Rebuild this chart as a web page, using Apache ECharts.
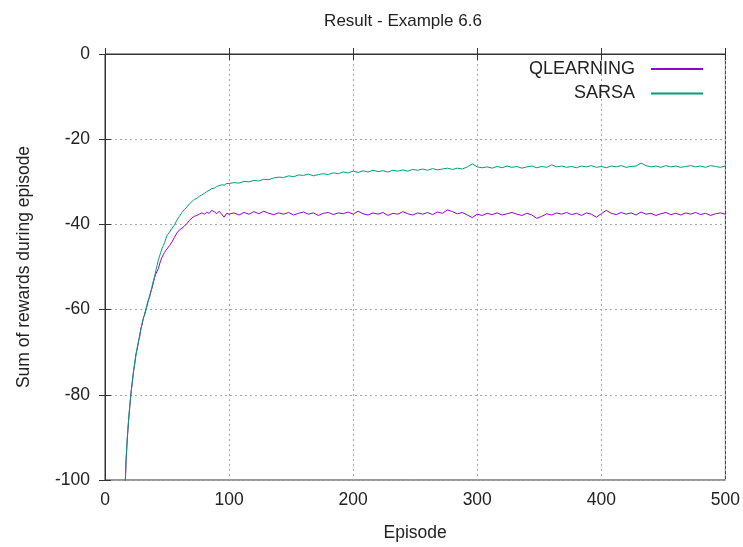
<!DOCTYPE html>
<html>
<head>
<meta charset="utf-8">
<script src="https://cdn.jsdelivr.net/npm/echarts@6/dist/echarts.min.js"></script>
<style>
  html, body { margin: 0; padding: 0; background: #fff; }
  #chart { width: 743px; height: 547px; }
</style>
</head>
<body>
<div id="chart"></div>
<script>
const episodes = [
  1, 5, 10, 14, 15,
  16, 17, 18, 19, 20, 21, 22, 23, 24, 25, 26, 27, 28, 29, 30,
  31, 32, 33, 34, 35, 36, 37, 38, 39, 40, 41, 42, 43, 44, 45,
  46, 47, 48, 49, 50,
  52, 54, 56, 58, 60, 62, 64, 66, 68, 70, 72, 74, 76, 78, 80,
  82, 84, 86, 88, 90, 92, 94, 96, 98, 100,
  104, 108, 112, 116, 120, 124, 128, 132, 136, 140,
  144, 148, 152, 156, 160, 164, 168, 172, 176, 180,
  184, 188, 192, 196, 200, 204, 208, 212, 216, 220,
  224, 228, 232, 236, 240, 244, 248, 252, 256, 260,
  264, 268, 272, 276, 280, 284, 288, 292, 296, 300,
  304, 308, 312, 316, 320, 324, 328, 332, 336, 340,
  344, 348, 352, 356, 360, 364, 368, 372, 376, 380,
  384, 388, 392, 396, 400, 404, 408, 412, 416, 420,
  424, 428, 432, 436, 440, 444, 448, 452, 456, 460,
  464, 468, 472, 476, 480, 484, 488, 492, 496, 500
];

const qlearning = [
  -420, -310, -200, -135, -118,
  -104, -95.5, -90.3, -86.2, -82.8, -79.3, -77.2, -74.3, -72.8, -70.3, -69.3, -67.4, -66.3, -64.3, -63.5,
  -61.8, -61.3, -59.8, -59.1, -57.6, -57.1, -55.6, -54.9, -53.6, -52.5, -51.6, -51.0, -50.4, -49.3, -48.4,
  -47.7, -47.1, -46.6, -46.1, -45.7,
  -45.0, -44.1, -43.0, -42.0, -41.3, -40.9, -40.4, -39.8, -39.1, -38.5, -38.1, -37.9, -37.6, -37.3, -37.6,
  -37.2, -37.4, -36.7, -37.0, -37.5, -36.9, -37.6, -38.3, -37.4, -37.6,
  -37.3, -37.8, -37.2, -37.6, -37.0, -37.5, -36.9, -37.4, -37.7, -37.3,
  -37.6, -37.2, -37.8, -37.4, -37.1, -37.6, -37.3, -37.9, -37.4, -37.2,
  -37.7, -37.3, -37.5, -37.1, -37.6, -36.9, -37.5, -37.8, -37.3, -37.6,
  -37.2, -37.9, -37.4, -37.6, -37.0, -37.5, -37.8, -37.3, -37.6, -37.2,
  -37.7, -37.1, -37.4, -36.6, -37.0, -37.5, -37.2, -37.8, -38.4, -37.6,
  -37.9, -37.4, -37.7, -37.3, -37.8, -37.5, -37.2, -37.6, -37.9, -37.4,
  -37.8, -38.6, -38.1, -37.5, -37.8, -37.3, -37.6, -37.2, -37.7, -37.4,
  -37.9, -37.3, -37.6, -38.3, -37.5, -36.7, -37.4, -37.7, -37.2, -37.6,
  -37.3, -37.8, -37.1, -37.6, -37.4, -37.9, -37.5, -37.2, -37.7, -37.4,
  -37.8, -37.3, -37.6, -37.2, -37.7, -37.4, -37.9, -37.5, -37.3, -37.6
];

const sarsa = [
  -420, -310, -200, -135, -118,
  -103.5, -95.0, -89.8, -85.8, -82.3, -79.7, -76.8, -74.7, -72.3, -70.7, -68.8, -67.6, -65.8, -64.6, -63.0,
  -62.1, -60.8, -60.1, -58.6, -57.9, -56.6, -55.9, -54.4, -53.2, -52.2, -50.8, -49.6, -48.3, -47.4, -46.5,
  -45.6, -45.0, -44.3, -43.4, -42.6,
  -41.8, -40.9, -40.1, -39.0, -38.1, -37.2, -36.5, -35.9, -35.2, -34.7, -34.1, -33.9, -33.4, -33.1, -32.7,
  -32.3, -32.0, -31.6, -31.5, -31.1, -30.9, -30.7, -30.8, -30.4, -30.4,
  -30.2, -30.3, -29.9, -30.0, -29.7, -29.8, -29.4, -29.5, -29.1, -28.9,
  -29.0, -28.6, -28.8, -28.4, -28.5, -28.2, -28.6, -28.3, -28.1, -28.3,
  -27.9, -28.1, -27.7, -27.9, -27.5, -27.8, -27.4, -27.7, -27.3, -27.6,
  -27.4, -27.7, -27.3, -27.5, -27.2, -27.5, -27.1, -27.3, -27.0, -27.3,
  -26.9, -27.2, -27.0, -26.8, -27.1, -26.8, -27.0, -26.5, -25.8, -26.5,
  -26.7, -26.5, -26.8, -26.4, -26.7, -26.3, -26.6, -26.4, -26.8, -26.5,
  -26.3, -26.7, -26.4, -26.6, -26.0, -26.5, -26.3, -26.6, -26.4, -26.7,
  -26.3, -26.5, -26.2, -26.6, -26.4, -26.7, -26.3, -26.5, -26.2, -26.6,
  -26.4, -26.3, -25.6, -26.2, -26.5, -26.3, -26.6, -26.2, -26.5, -26.3,
  -26.6, -26.4, -26.2, -26.5, -26.3, -26.6, -26.2, -26.4, -26.6, -26.3
];

const seriesNames = ['QLEARNING', 'SARSA'];
const seriesColors = ['#9400d3', '#009e73'];
const xTicks = { min: 0, max: 500, interval: 100 };
const yTicks = { min: -100, max: 0, interval: 20 };

const font = '"Liberation Sans", Arial, sans-serif';
const pairs = (ys) => episodes.map((x, i) => [x, ys[i]]);

const chart = echarts.init(document.getElementById('chart'), null, { renderer: 'canvas' });

const frame = { show: true, lineStyle: { color: '#333', width: 1 } };
const tick = { show: true, inside: true, length: 6, lineStyle: { color: '#333' } };
const dotted = { show: true, lineStyle: { color: '#a8a8a8', type: [2, 3], width: 1 } };

const lineSeries = (name, ys, color) => ({
  name: name,
  type: 'line',
  data: pairs(ys),
  symbol: 'none',
  clip: true,
  itemStyle: { color: color },
  lineStyle: { width: 1, color: color }
});

chart.setOption({
  animation: false,
  backgroundColor: '#fff',
  textStyle: { fontFamily: font },
  title: {
    text: 'Result - Example 6.6',
    left: 398,
    top: 8,
    textAlign: 'center',
    textStyle: { fontSize: 17, fontWeight: 'normal', color: '#222', fontFamily: font }
  },
  legend: {
    orient: 'vertical',
    right: 35,
    top: 55,
    align: 'right',
    icon: 'rect',
    itemWidth: 52,
    itemHeight: 2,
    itemGap: 6.5,
    textStyle: { fontSize: 18, color: '#222', fontFamily: font, padding: [0, 11, 0, 0] },
    data: seriesNames.map((n, i) => ({ name: n, itemStyle: { color: seriesColors[i] } }))
  },
  grid: { left: 105, right: 17, top: 54, bottom: 65, show: true, borderColor: '#333', borderWidth: 1 },
  xAxis: [
    {
      type: 'value',
      min: xTicks.min, max: xTicks.max, interval: xTicks.interval,
      name: 'Episode',
      nameLocation: 'middle',
      nameGap: 44,
      nameTextStyle: { fontSize: 17.5, color: '#222', fontFamily: font },
      axisLine: frame,
      axisTick: tick,
      axisLabel: { fontSize: 17.5, color: '#222', margin: 11, fontFamily: font },
      splitLine: dotted
    },
    {
      type: 'value', position: 'top',
      min: xTicks.min, max: xTicks.max, interval: xTicks.interval,
      axisLine: frame, axisTick: tick,
      axisLabel: { show: false }, splitLine: { show: false }
    }
  ],
  yAxis: [
    {
      type: 'value',
      min: yTicks.min, max: yTicks.max, interval: yTicks.interval,
      name: 'Sum of rewards during episode',
      nameLocation: 'middle',
      nameGap: 72,
      nameRotate: 90,
      nameTextStyle: { fontSize: 17.5, color: '#222', fontFamily: font },
      axisLine: frame,
      axisTick: tick,
      axisLabel: { fontSize: 17.5, color: '#222', margin: 15, fontFamily: font },
      splitLine: dotted
    },
    {
      type: 'value', position: 'right',
      min: yTicks.min, max: yTicks.max, interval: yTicks.interval,
      axisLine: frame, axisTick: tick,
      axisLabel: { show: false }, splitLine: { show: false }
    }
  ],
  series: [
    lineSeries(seriesNames[0], qlearning, seriesColors[0]),
    lineSeries(seriesNames[1], sarsa, seriesColors[1])
  ]
});
</script>
</body>
</html>
